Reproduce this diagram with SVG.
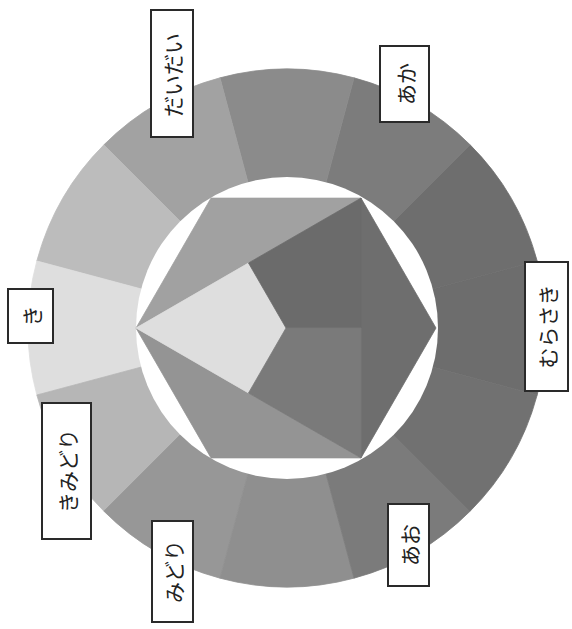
<svg xmlns="http://www.w3.org/2000/svg" width="572" height="629" viewBox="0 0 572 629">
<style>
.lbl rect{fill:#fff;stroke:#2a2a2a;stroke-width:2}
.lbl text{font-family:"Noto Sans CJK JP","Noto Sans CJK SC",sans-serif;font-size:21px;fill:#222;text-anchor:middle;dominant-baseline:central}
#ring path,#hexagon polygon{stroke-width:0.8;stroke-linejoin:round}
</style>
<rect width="572" height="629" fill="#fff"/>
<g id="ring">
<path d="M287 328L537.17 395.03A259 259 0 0 0 537.17 260.97Z" fill="#6d6d6d" stroke="#6d6d6d"/>
<path d="M287 328L537.17 260.97A259 259 0 0 0 470.14 144.86Z" fill="#6e6e6e" stroke="#6e6e6e"/>
<path d="M287 328L470.14 144.86A259 259 0 0 0 354.03 77.83Z" fill="#7c7c7c" stroke="#7c7c7c"/>
<path d="M287 328L354.03 77.83A259 259 0 0 0 219.97 77.83Z" fill="#8b8b8b" stroke="#8b8b8b"/>
<path d="M287 328L219.97 77.83A259 259 0 0 0 103.86 144.86Z" fill="#a2a2a2" stroke="#a2a2a2"/>
<path d="M287 328L103.86 144.86A259 259 0 0 0 36.83 260.97Z" fill="#bcbcbc" stroke="#bcbcbc"/>
<path d="M287 328L36.83 260.97A259 259 0 0 0 36.83 395.03Z" fill="#dedede" stroke="#dedede"/>
<path d="M287 328L36.83 395.03A259 259 0 0 0 103.86 511.14Z" fill="#b6b6b6" stroke="#b6b6b6"/>
<path d="M287 328L103.86 511.14A259 259 0 0 0 219.97 578.17Z" fill="#979797" stroke="#979797"/>
<path d="M287 328L219.97 578.17A259 259 0 0 0 354.03 578.17Z" fill="#8f8f8f" stroke="#8f8f8f"/>
<path d="M287 328L354.03 578.17A259 259 0 0 0 470.14 511.14Z" fill="#7b7b7b" stroke="#7b7b7b"/>
<path d="M287 328L470.14 511.14A259 259 0 0 0 537.17 395.03Z" fill="#717171" stroke="#717171"/>
<circle cx="287" cy="328" r="151" fill="#fff"/>
</g>
<g id="hexagon">
<polygon points="136,328 211,198.1 361,198.1" fill="#a1a1a1" stroke="#a1a1a1"/>
<polygon points="361,198.1 436,328 361,457.9" fill="#6e6e6e" stroke="#6e6e6e"/>
<polygon points="361,457.9 211,457.9 136,328" fill="#949494" stroke="#949494"/>
<polygon points="136,328 248.5,263 286,328 248.5,393" fill="#dedede" stroke="#dedede"/>
<polygon points="248.5,263 361,198.1 361,328 286,328" fill="#6b6b6b" stroke="#6b6b6b"/>
<polygon points="286,328 361,328 361,457.9 248.5,393" fill="#7a7a7a" stroke="#7a7a7a"/>
</g>
<g id="label-daidai" class="lbl"><rect x="151" y="10" width="42" height="127"/><text transform="translate(172 75) rotate(-90)">だいだい</text></g>
<g id="label-aka" class="lbl"><rect x="380" y="46" width="49" height="76"/><text transform="translate(404.5 84) rotate(-90)">あか</text></g>
<g id="label-murasaki" class="lbl"><rect x="525" y="262" width="43" height="129"/><text transform="translate(546.5 326.5) rotate(-90)">むらさき</text></g>
<g id="label-ki" class="lbl"><rect x="8" y="289" width="45" height="54"/><text transform="translate(30.5 316) rotate(-90)">き</text></g>
<g id="label-kimidori" class="lbl"><rect x="42" y="403" width="49" height="136"/><text transform="translate(66.5 471) rotate(-90)">きみどり</text></g>
<g id="label-ao" class="lbl"><rect x="388" y="504" width="41" height="82"/><text transform="translate(408.5 545) rotate(-90)">あお</text></g>
<g id="label-midori" class="lbl"><rect x="152" y="521" width="41" height="101"/><text transform="translate(172.5 571.5) rotate(-90)">みどり</text></g>
</svg>
